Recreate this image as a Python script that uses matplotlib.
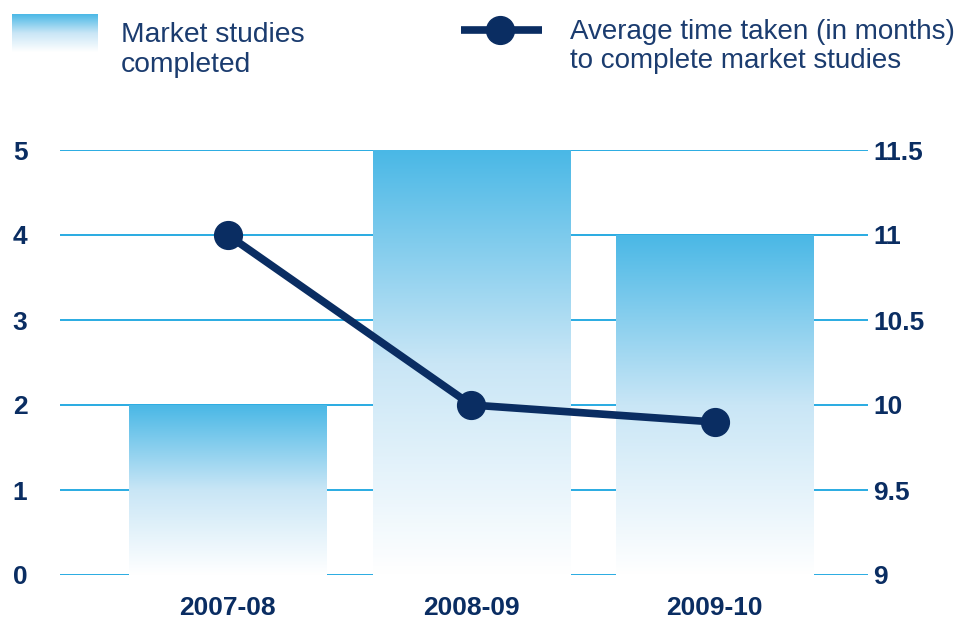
import numpy as np
import matplotlib
matplotlib.use('Agg')
from matplotlib import pyplot as plt
from matplotlib.colors import LinearSegmentedColormap

# Data
years = ['2007-08', '2008-09', '2009-10']
studies_completed = [2, 5, 4]
avg_months = [11, 10, 9.9]

left_ticks = [0, 1, 2, 3, 4, 5]
right_ticks = [9, 9.5, 10, 10.5, 11, 11.5]
right_tick_labels = ['9', '9.5', '10', '10.5', '11', '11.5']

# Colours
navy = '#0a2d62'
text_navy = '#1b3c6f'
grid_blue = '#29abe2'
bar_top = '#4ab8e6'

plt.rcParams['font.family'] = ['Liberation Sans', 'DejaVu Sans']

fig = plt.figure(figsize=(9.71, 6.18), dpi=100)
ax = fig.add_axes([60 / 971, 1 - 575 / 618, 808 / 971, 425 / 618])
ax2 = ax.twinx()

cmap = LinearSegmentedColormap.from_list('bar_grad', ['#ffffff', '#c9e6f6', bar_top])
grad = np.linspace(0, 1, 256).reshape(-1, 1)

x = np.arange(len(years))
bar_w = 0.81
bars = ax.bar(x, studies_completed, width=bar_w, color='none', zorder=2)
for b in bars:
    x0, y0 = b.get_x(), b.get_y()
    w, h = b.get_width(), b.get_height()
    im = ax.imshow(grad, extent=[x0, x0 + w, y0, y0 + h], origin='lower',
                   aspect='auto', cmap=cmap, zorder=2)
    im.set_clip_path(b)

# gridlines
for t in left_ticks:
    ax.axhline(t, color=grid_blue, lw=1.4, zorder=1)

ax.set_xlim(-0.69, 2.63)
ax.set_ylim(0, 5)
ax.set_yticks(left_ticks)
ax.set_xticks(x)
ax.set_xticklabels(years)

ax2.plot(x, avg_months, color=navy, lw=5.5, marker='o', markersize=20,
         solid_capstyle='butt', zorder=5)
ax2.set_ylim(9, 11.5)
ax2.set_yticks(right_ticks)
ax2.set_yticklabels(right_tick_labels)

for a in (ax, ax2):
    for s in a.spines.values():
        s.set_visible(False)
    a.tick_params(length=0, labelsize=19, labelcolor=navy)
    for lbl in a.get_xticklabels() + a.get_yticklabels():
        lbl.set_fontweight('bold')

ax.tick_params(axis='x', pad=15)
ax2.tick_params(axis='y', pad=4)
for lbl in ax.get_yticklabels():
    lbl.set_horizontalalignment('left')
ax.tick_params(axis='y', pad=34)

# Legend (manual)
leg_ax = fig.add_axes([0, 0, 1, 1], facecolor='none')
leg_ax.axis('off')
leg_ax.imshow(grad, extent=[12, 98, 52, 14], origin='lower', aspect='auto', cmap=cmap)
leg_ax.text(121, 72, 'Market studies\ncompleted', fontsize=20.3, color=text_navy,
            va='baseline', ha='left', linespacing=1.2)
leg_ax.plot([461, 542], [30, 30], color=navy, lw=5.5, solid_capstyle='butt')
leg_ax.plot([500], [30], marker='o', markersize=20, color=navy)
leg_ax.text(570, 68, 'Average time taken (in months)\nto complete market studies',
            fontsize=20, color=text_navy, va='baseline', ha='left', linespacing=1.15)
leg_ax.set_xlim(0, 971)
leg_ax.set_ylim(618, 0)

fig.savefig('out.png', dpi=100)
